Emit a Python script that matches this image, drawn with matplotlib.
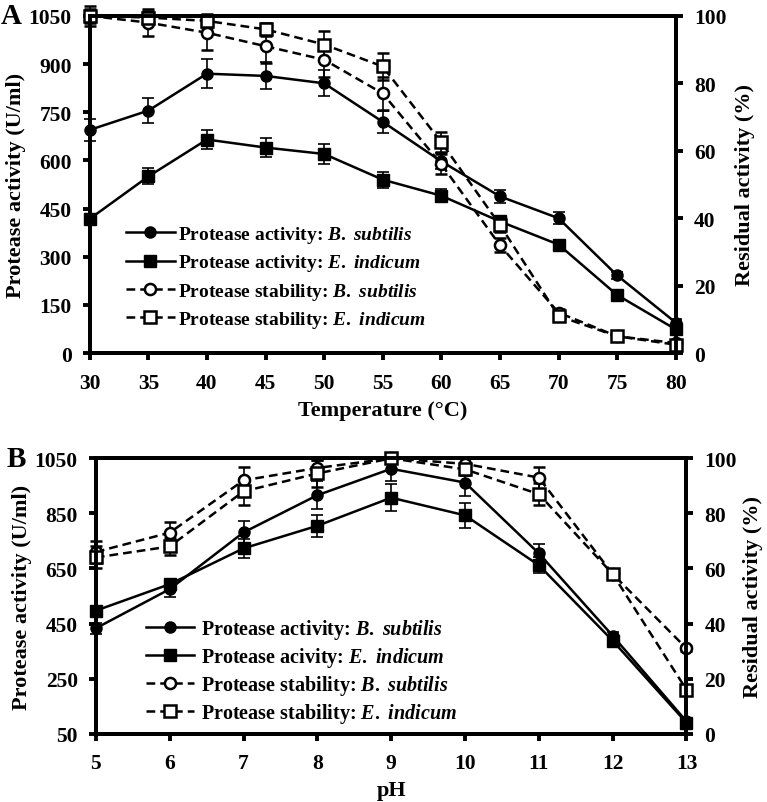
import matplotlib.pyplot as plt
from matplotlib.lines import Line2D

plt.rcParams["font.family"] = "Liberation Serif"
plt.rcParams["font.weight"] = "bold"
plt.rcParams["mathtext.fontset"] = "custom"
plt.rcParams["mathtext.it"] = "Liberation Serif:bold:italic"
plt.rcParams["mathtext.rm"] = "Liberation Serif:bold"

# Panel A: temperature
temp = [30, 35, 40, 45, 50, 55, 60, 65, 70, 75, 80]
act_bs_t = [695, 755, 870, 863, 840, 720, 597, 488, 420, 242, 95]
act_bs_t_err = [35, 38, 45, 42, 40, 35, 25, 20, 18, 10, 10]
act_ei_t = [418, 550, 665, 640, 620, 540, 490, 410, 338, 181, 74]
act_ei_t_err = [15, 25, 30, 30, 30, 25, 20, 15, 10, 10, 10]
stab_bs_t = [100, 98, 95, 91, 87, 77, 56, 32, 12, 5, 3]
stab_bs_t_err = [3, 4, 5, 5, 5, 5, 3, 2, 1, 1, 1]
stab_ei_t = [100, 99.5, 98.5, 96, 91.5, 85, 62.5, 38, 11, 5, 2.5]
stab_ei_t_err = [2, 2, 2, 2, 4, 4, 3, 2, 1, 1, 1]

# Panel B: pH
ph = [5, 6, 7, 8, 9, 10, 11, 12, 13]
act_bs_p = [433, 575, 781, 916, 1012, 962, 705, 406, 95]
act_bs_p_err = [20, 30, 40, 50, 45, 50, 35, 15, 10]
act_ei_p = [497, 593, 723, 805, 907, 843, 662, 388, 90]
act_ei_p_err = [15, 15, 35, 40, 50, 45, 30, 15, 10]
stab_bs_p = [66, 73, 92, 96.5, 100, 98, 93, 58, 31]
stab_bs_p_err = [4, 4, 5, 3, 1, 2, 4, 1, 1]
stab_ei_p = [64, 68, 88, 94.5, 100, 96, 87, 58, 16]
stab_ei_p_err = [4, 3, 5, 5, 1, 2, 4, 1, 1]

LW_SPINE = 2.8
FS = 16
DASH = (0, (3.5, 2))


def style_axes(ax):
    for s in ax.spines.values():
        s.set_linewidth(LW_SPINE)
    ax.tick_params(width=LW_SPINE, length=5, direction="out", labelsize=15.5)
    ax.tick_params(axis="x", pad=9)
    ax.tick_params(axis="y", pad=8)


def draw_panel(ax, x, series, ylim_left, yticks_left, xlabel, letter, rpad):
    ax2 = ax.twinx()
    (a1, e1), (a2, e2), (s1, es1), (s2, es2) = series
    common = dict(color="black", linewidth=1.8, capsize=4, elinewidth=1.2,
                  capthick=1.2, markersize=8)
    conts = [
        ax.errorbar(x, a1, yerr=e1, marker="o", linestyle="-", **common),
        ax.errorbar(x, a2, yerr=e2, marker="s", linestyle="-", **common),
        ax2.errorbar(x, s1, yerr=es1, marker="o", linestyle=DASH,
                     markerfacecolor="white", markeredgewidth=1.8, **common),
        ax2.errorbar(x, s2, yerr=es2, marker="s", linestyle=DASH,
                     markerfacecolor="white", markeredgewidth=1.8, **common),
    ]
    for c in conts:
        for art in c.get_children():
            art.set_clip_on(False)
    ax.set_xlim(x[0], x[-1])
    ax.set_xticks(x)
    ax.set_ylim(*ylim_left)
    ax.set_yticks(yticks_left)
    ax2.set_ylim(0, 100)
    ax2.set_yticks(range(0, 101, 20))
    style_axes(ax)
    style_axes(ax2)
    for a in (ax, ax2):
        for t in a.get_xticklabels() + a.get_yticklabels():
            t.set_fontweight("bold")
    ax.set_ylabel("Protease activity (U/ml)", fontsize=FS, fontweight="bold", labelpad=2)
    ax2.set_ylabel("Residual activity (%)", fontsize=FS, fontweight="bold", labelpad=rpad)
    ax.set_xlabel(xlabel, fontsize=FS, fontweight="bold", labelpad=5)
    ax.text(-0.152, 1.0, letter, transform=ax.transAxes, fontsize=21,
            fontweight="bold", va="center", ha="left")


def legend_handles():
    kw = dict(color="black", linewidth=1.8, markersize=8)
    return [
        Line2D([], [], marker="o", linestyle="-", **kw),
        Line2D([], [], marker="s", linestyle="-", **kw),
        Line2D([], [], marker="o", linestyle=DASH, markerfacecolor="white",
               markeredgewidth=1.8, **kw),
        Line2D([], [], marker="s", linestyle=DASH, markerfacecolor="white",
               markeredgewidth=1.8, **kw),
    ]


fig = plt.figure(figsize=(7.67, 8.03), dpi=100)
axA = fig.add_axes([0.117, 0.559, 0.764, 0.420])
axB = fig.add_axes([0.125, 0.085, 0.770, 0.343])

labels_A = [
    r"Protease activity: $\it{B.\ subtilis}$",
    r"Protease activity: $\it{E.\ indicum}$",
    r"Protease stability: $\it{B.\ subtilis}$",
    r"Protease stability: $\it{E.\ indicum}$",
]
labels_B = [
    r"Protease activity: $\it{B.\ subtilis}$",
    r"Protease acivity: $\it{E.\ indicum}$",
    r"Protease stability: $\it{B.\ subtilis}$",
    r"Protease stability: $\it{E.\ indicum}$",
]

draw_panel(axA, temp,
           [(act_bs_t, act_bs_t_err), (act_ei_t, act_ei_t_err),
            (stab_bs_t, stab_bs_t_err), (stab_ei_t, stab_ei_t_err)],
           (0, 1050), range(0, 1051, 150), "Temperature (°C)", "A", 6)
draw_panel(axB, ph,
           [(act_bs_p, act_bs_p_err), (act_ei_p, act_ei_p_err),
            (stab_bs_p, stab_bs_p_err), (stab_ei_p, stab_ei_p_err)],
           (50, 1050), range(50, 1051, 200), "pH", "B", 4)

leg_kw = dict(frameon=False, borderaxespad=0, borderpad=0, loc="upper left",
              bbox_transform=fig.transFigure)
lgA = axA.legend(legend_handles(), labels_A, fontsize=14, labelspacing=0.38,
                 handlelength=2.5, handletextpad=0.2,
                 bbox_to_anchor=(126 / 767, 1 - 225 / 803), **leg_kw)
lgB = axB.legend(legend_handles(), labels_B, fontsize=14.5, labelspacing=0.2,
                 handlelength=2.4, handletextpad=0.35,
                 bbox_to_anchor=(146 / 767, 1 - 618 / 803), **leg_kw)
for lg in (lgA, lgB):
    lg.set_zorder(10)

fig.savefig("out.png", dpi=100)
